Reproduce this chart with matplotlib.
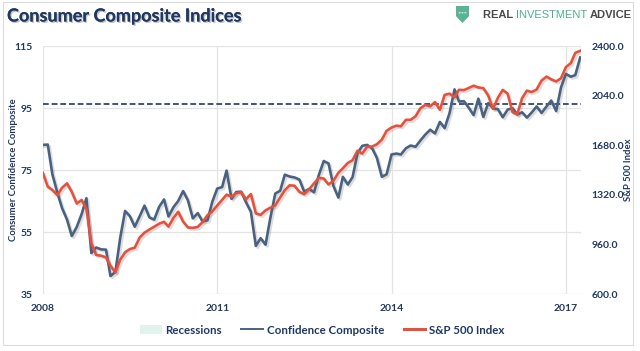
import numpy as np
import pandas as pd
import matplotlib
matplotlib.use("Agg")
import matplotlib.pyplot as plt
import matplotlib.patheffects as pe
from matplotlib.patches import Patch, Polygon, Rectangle, Circle
from matplotlib.lines import Line2D

# ---------------- data (month-end, Dec 2007 .. Mar 2017) ----------------
start_month = "2007-12-31"
confidence = [
    83.1,
    83.2, 73.6, 67.7, 62.7, 59.0, 53.7, 56.6, 60.8, 65.9, 48.2, 50.0, 49.4,
    49.3, 40.8, 42.1, 53.0, 61.8, 60.1, 56.7, 60.1, 63.5, 59.7, 59.0, 63.1,
    65.5, 60.0, 63.0, 65.0, 68.2, 65.2, 59.4, 61.1, 58.4, 58.8, 64.7, 69.0,
    69.5, 74.8, 65.7, 67.9, 68.0, 64.6, 61.5, 50.5, 53.0, 50.9, 59.5, 67.4,
    68.3, 73.5, 72.9, 72.6, 71.9, 68.0, 68.9, 67.8, 73.4, 77.9, 77.1, 69.8,
    66.1, 72.8, 70.3, 72.7, 80.4, 82.8, 83.1, 82.0, 78.9, 72.8, 73.6, 80.0,
    80.3, 80.0, 82.0, 82.9, 82.5, 84.5, 86.4, 88.0, 86.8, 90.5, 88.5, 93.4,
    101.0, 97.1, 97.2, 95.1, 92.7, 98.0, 92.1, 96.6, 94.9, 94.6, 92.0, 94.5,
    94.9, 92.9, 93.6, 91.9, 93.6, 95.5, 93.4, 95.5, 97.4, 94.0, 101.6, 106.0,
    105.1, 105.6, 111.3,
]
sp500 = [
    1479,
    1379, 1355, 1317, 1371, 1403, 1341, 1257, 1282, 1217, 969, 883, 878,
    866, 805, 757, 848, 902, 926, 936, 1010, 1045, 1068, 1088, 1110,
    1124, 1089, 1152, 1197, 1125, 1083, 1080, 1087, 1122, 1172, 1199, 1242,
    1283, 1321, 1305, 1332, 1338, 1287, 1325, 1185, 1174, 1207, 1226, 1243,
    1301, 1353, 1389, 1386, 1341, 1324, 1360, 1403, 1443, 1438, 1395, 1422,
    1480, 1512, 1551, 1571, 1640, 1619, 1669, 1670, 1687, 1720, 1784, 1808,
    1822, 1817, 1864, 1864, 1890, 1947, 1973, 1962, 1993, 1937, 2045, 2054,
    2028, 2082, 2080, 2095, 2112, 2099, 2094, 2040, 1944, 2025, 2081, 2054,
    1919, 1904, 2022, 2076, 2066, 2084, 2149, 2178, 2158, 2143, 2165, 2247,
    2275, 2350, 2365,
]
confidence_avg = 96.4
left_ticks = [35, 55, 75, 95, 115]
right_ticks = [600, 960, 1320, 1680, 2040, 2400]
year_ticks = ["2008", "2011", "2014", "2017"]
legend_labels = ["Recessions", "Confidence Composite", "S&P 500 Index"]

dates = pd.date_range(start_month, periods=len(confidence), freq="ME")

# ---------------- style ----------------
FONT = ["Lato", "DejaVu Sans"]
plt.rcParams["font.family"] = FONT
NAVY = "#1f3864"
BLUE = "#4a6282"
RED = "#e8503a"
GRID = "#e4e4e4"

fig = plt.figure(figsize=(6.4, 3.51), dpi=100)
fig.patch.set_facecolor("white")

# outer frame
fig.patches.append(Rectangle((3 / 640, 1 - 345 / 351), 630 / 640, 343 / 351,
                             transform=fig.transFigure, fill=False,
                             edgecolor="#dcdcdc", linewidth=0.8))

ax = fig.add_axes([43 / 640, 1 - 294 / 351, (581 - 43) / 640, (294 - 46) / 351])
ax2 = ax.twinx()

shadow = [pe.SimpleLineShadow(offset=(1.3, -1.3), shadow_color="#666666", alpha=0.22),
          pe.Normal()]

ax.axhline(confidence_avg, color="#2d4a72", lw=1.3, ls=(0, (3.2, 1.6)), zorder=2)
ax.plot(dates, confidence, color=BLUE, lw=1.9, zorder=3, path_effects=shadow,
        solid_joinstyle="round")
ax2.plot(dates, sp500, color=RED, lw=1.9, zorder=3, path_effects=shadow,
         solid_joinstyle="round")

ax.set_ylim(35, 115)
ax2.set_ylim(600, 2400)
ax.set_xlim(pd.Timestamp("2008-01-01"), pd.Timestamp("2017-04-05"))

ax.set_yticks(left_ticks)
ax.set_yticklabels([str(t) for t in left_ticks])
ax2.set_yticks(right_ticks)
ax2.set_yticklabels([f"{t:.1f}" for t in right_ticks])
ax.set_xticks([pd.Timestamp(f"{y}-01-01") for y in year_ticks])
ax.set_xticklabels(year_ticks)

ax.grid(True, color=GRID, lw=0.9)
ax.set_axisbelow(True)
for a in (ax, ax2):
    for s in a.spines.values():
        s.set_visible(False)

ax.tick_params(axis="y", length=0, pad=7.5, labelsize=7.5, labelcolor=NAVY)
ax.tick_params(axis="x", length=0, pad=7, labelsize=7.5, labelcolor=NAVY)
ax2.tick_params(axis="y", length=0, pad=7.5, labelsize=7.5, labelcolor=NAVY)
for lab in ax.get_yticklabels() + ax.get_xticklabels() + ax2.get_yticklabels():
    lab.set_fontweight("bold")

ax.set_ylabel("Consumer Confidence Composite", fontsize=6.8, fontweight="bold",
              color=NAVY)
ax.yaxis.set_label_coords(-0.046, 0.5)
ax2.set_ylabel("S&P 500 Index", fontsize=6.8, fontweight="bold", color=NAVY)
ax2.yaxis.set_label_coords(1.079, 0.5)

# title
fig.text(7 / 640, 1 - 16 / 351, "Consumer Composite Indices", fontsize=13,
         fontweight="bold", color=NAVY, va="center", ha="left",
         path_effects=[pe.withSimplePatchShadow(offset=(1, -1), alpha=0.25),
                       pe.Normal()])

# logo
sx, sy = 456 / 640, 1 - 6 / 351
w = 13 / 640
h = 17 / 351
shield = Polygon([(sx, sy), (sx + w, sy), (sx + w, sy - h * 0.6),
                  (sx + w / 2, sy - h), (sx, sy - h * 0.6)],
                 closed=True, transform=fig.transFigure,
                 facecolor="#5ab394", edgecolor="none")
fig.patches.append(shield)
for k in (-1, 0, 1):
    fig.patches.append(Circle((sx + w / 2 + k * 2.8 / 640, sy - h * 0.4), 1.0 / 640,
                              transform=fig.transFigure, facecolor="white",
                              edgecolor="none"))
logo_y = 1 - 15.5 / 351
t1 = fig.text(483 / 640, logo_y, "REAL ", fontsize=8, fontweight="bold",
              color="#4a4a4a", va="center", ha="left", family="Liberation Sans")
fig.canvas.draw()
r = fig.canvas.get_renderer()
bb = t1.get_window_extent(r)
t2 = fig.text(bb.x1 / 640, logo_y, "INVESTMENT ", fontsize=8, fontweight="normal",
              color="#4fae8c", va="center", ha="left", family="Liberation Sans")
bb2 = t2.get_window_extent(r)
fig.text(bb2.x1 / 640, logo_y, "ADVICE", fontsize=8, fontweight="bold",
         color="#4a4a4a", va="center", ha="left", family="Liberation Sans")

# legend
handles = [Patch(facecolor="#e2f3ee", edgecolor="none"),
           Line2D([], [], color=BLUE, lw=1.4),
           Line2D([], [], color=RED, lw=2.2)]
leg = fig.legend(handles, legend_labels, loc="center", ncol=3,
                 bbox_to_anchor=(322 / 640, 1 - 330 / 351), frameon=False,
                 handlelength=1.9, handleheight=0.8, handletextpad=0.3,
                 columnspacing=1.7, prop={"size": 8.3, "weight": "bold",
                                          "family": FONT})
for t in leg.get_texts():
    t.set_color(NAVY)

fig.savefig("out.png", dpi=100)
